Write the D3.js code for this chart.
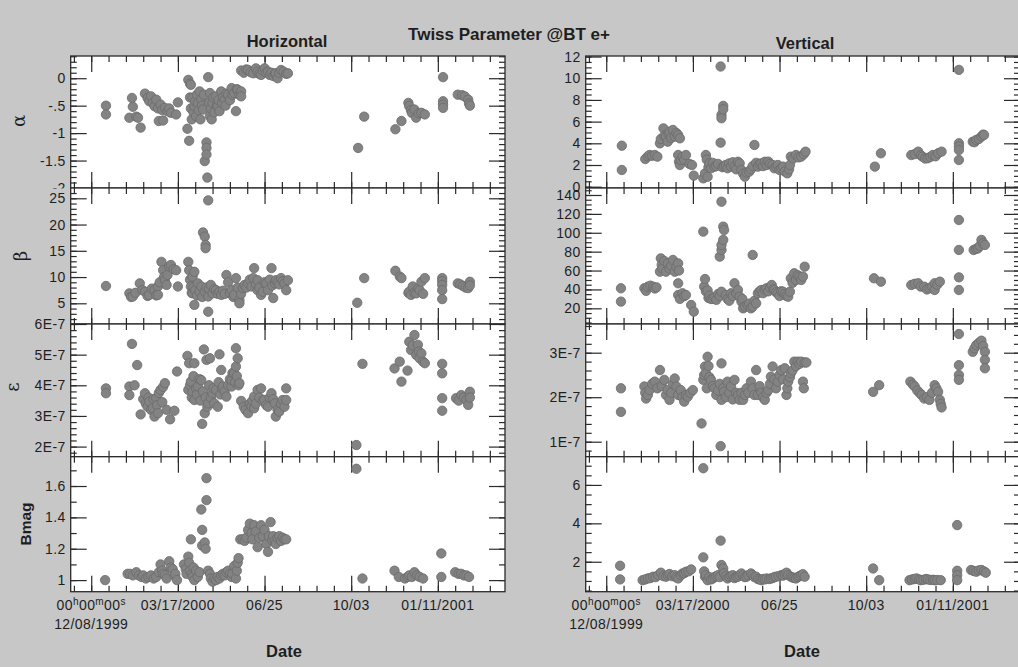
<!DOCTYPE html>
<html><head><meta charset="utf-8">
<script src="https://cdn.jsdelivr.net/npm/d3@7"></script>
<style>
html,body{margin:0;padding:0;background:#c7c7c7;}
svg{display:block;}
text{font-family:"Liberation Sans",Arial,Helvetica,sans-serif;fill:#1e1e1e;}
</style></head><body>
<svg id="chart" width="1018" height="667"></svg>
<script>
// Twiss parameters measured at BT for e+, horizontal and vertical planes.
// Each point is [days since 12/08/1999 00:00, value].

const alphaH = [
[17,-0.50],[17,-0.66],
[44,-0.72],[47,-0.36],[48,-0.52],[52,-0.70],[54,-0.72],[57,-0.90],
[62,-0.28],[65,-0.36],[67,-0.42],[69,-0.33],[71,-0.45],[73,-0.51],[75,-0.39],[77,-0.55],[78,-0.78],[80,-0.48],[82,-0.58],[83,-0.77],[85,-0.54],[88,-0.60],[90,-0.55],[92,-0.63],[98,-0.66],[100,-0.44],
[111,-0.92],[112,-0.03],[113,-1.14],[114,-0.10],[115,-0.12],[114,-0.35],[115,-0.55],[116,-0.75],[117,-0.36],[118,-0.62],[119,-0.51],[120,-0.42],[121,-0.69],[122,-0.30],[123,-0.45],[124,-0.58],[125,-0.24],[126,-0.75],[127,-0.39],[128,-0.50],[129,-0.57],[130,-0.30],
[131,-1.51],[133,-1.17],[133,-1.27],[133,-1.39],[134,-1.81],[135,0.02],
[136,-0.45],[137,-0.27],[137,-0.69],[138,-0.55],[139,-0.75],[140,-0.45],[141,-0.35],[142,-0.62],[144,-0.33],[145,-0.50],[146,-0.51],[147,-0.40],[148,-0.60],[150,-0.24],[151,-0.45],[152,-0.35],[154,-0.39],[155,-0.50],[156,-0.28],[158,-0.30],[160,-0.40],[162,-0.18],[163,-0.30],[165,-0.27],[167,-0.60],[168,-0.20],[169,-0.21],[171,-0.30],[173,-0.24],[173,-0.33],
[173,0.14],[176,0.10],[179,0.16],[181,0.15],[184,0.11],[187,0.09],[190,0.18],[192,0.12],[194,0.08],[196,0.06],[198,0.14],[200,0.18],[202,0.10],[204,0.12],[206,0.06],[208,0.10],[210,0.04],[212,0.08],[213,0.09],[215,0.00],[217,0.10],[219,0.15],[222,0.12],[225,0.08],[227,0.09],
[308,-1.27],[315,-0.70],
[351,-0.93],[358,-0.78],[366,-0.45],[367,-0.51],[369,-0.58],[370,-0.63],[373,-0.57],[375,-0.72],[378,-0.64],[381,-0.63],[385,-0.66],
[406,0.02],[406,-0.42],[406,-0.48],[406,-0.54],
[423,-0.30],[428,-0.31],[431,-0.33],[435,-0.39],[436,-0.46],[437,-0.50]
];

const betaH = [
[17,8.3],
[44,6.9],[46,6.2],[48,6.3],[51,7.0],[56,8.8],[59,7.5],[62,7.2],[65,6.4],[67,6.6],[70,7.8],[73,7.5],[75,6.5],[77,8.2],[77,6.6],[79,9.0],
[81,12.9],[83,11.3],[84,10.0],[85,9.4],[87,8.5],[88,10.4],[90,12.0],[92,12.3],[95,11.5],[98,11.3],[100,8.2],
[112,12.9],[113,11.3],[114,9.5],[115,8.2],[116,7.0],[117,10.1],[117,6.9],[118,8.0],[119,11.0],[119,4.7],[120,7.5],[122,6.5],[123,8.8],[125,7.2],[127,8.2],[128,6.2],
[129,18.5],[131,17.7],[132,16.1],[132,15.5],[135,24.6],[135,3.4],
[131,7.2],[133,8.0],[135,6.3],[136,7.8],[138,8.5],[140,6.9],[142,7.7],[144,7.5],[146,6.8],[148,7.2],[150,6.6],[152,7.4],[154,6.8],[156,10.4],[158,9.0],[160,7.0],[162,7.5],[164,6.2],[165,6.6],[167,9.8],[169,8.0],[171,5.6],[171,5.0],[173,6.8],[175,7.9],[177,8.5],
[179,8.0],[181,8.8],[183,9.5],[185,8.2],[187,9.8],[188,11.7],[190,8.6],[192,7.5],[192,9.4],[194,8.0],[196,6.6],[198,7.2],[200,9.0],[202,8.8],[204,7.5],[206,9.5],[208,11.7],[209,8.4],[210,6.0],[212,8.8],[213,9.4],[215,9.0],[217,8.6],[219,9.8],[221,9.2],[223,8.8],[225,7.5],[227,9.4],
[307,5.1],[315,9.8],
[351,11.2],[356,10.1],[358,9.8],[366,7.0],[367,7.2],[369,6.6],[371,8.2],[373,7.0],[375,6.9],[377,7.8],[379,7.5],[381,9.1],[383,6.8],[385,9.8],
[405,9.8],[405,9.2],[405,8.5],[405,7.5],[405,5.8],
[423,8.8],[426,8.6],[429,8.3],[432,8.0],[435,7.9],[437,9.1],[437,8.4]
];

const emitH = [
[17,3.90e-7],[17,3.74e-7],
[44,3.96e-7],[44,3.68e-7],[47,5.35e-7],[50,4.00e-7],[53,4.66e-7],[57,3.05e-7],
[60,3.55e-7],[62,3.74e-7],[63,3.40e-7],[65,3.30e-7],[66,3.60e-7],[67,3.47e-7],[69,3.20e-7],[71,3.25e-7],[72,3.55e-7],[73,2.98e-7],[75,3.58e-7],[76,3.35e-7],[77,3.09e-7],[78,3.75e-7],[80,3.85e-7],[82,3.45e-7],[83,3.95e-7],[85,4.07e-7],[87,3.20e-7],[91,2.89e-7],[96,3.17e-7],[99,4.45e-7],
[111,4.96e-7],[112,3.85e-7],[113,4.72e-7],[114,4.00e-7],[115,4.12e-7],[116,3.60e-7],[117,3.79e-7],[118,4.30e-7],[119,4.72e-7],[119,3.52e-7],[121,3.90e-7],[122,3.70e-7],[123,3.96e-7],[125,4.20e-7],[126,3.50e-7],[127,4.17e-7],[128,2.74e-7],[129,3.80e-7],[130,5.17e-7],[131,3.09e-7],[132,3.60e-7],[133,4.83e-7],[134,3.30e-7],[135,3.41e-7],[136,4.00e-7],[137,4.88e-7],[138,3.60e-7],[140,3.74e-7],[141,3.90e-7],[142,3.41e-7],[144,3.85e-7],[146,3.30e-7],[147,4.10e-7],[148,5.01e-7],[149,3.70e-7],[150,4.50e-7],[151,3.90e-7],[152,3.96e-7],[154,3.80e-7],[156,3.63e-7],[158,4.00e-7],[160,4.20e-7],[162,3.96e-7],[162,4.17e-7],[163,4.40e-7],[165,4.39e-7],[166,4.10e-7],[167,5.21e-7],[167,4.61e-7],[168,4.30e-7],[169,4.88e-7],[170,4.00e-7],[171,4.07e-7],
[173,3.49e-7],[176,3.30e-7],[178,3.20e-7],[181,3.09e-7],[183,3.40e-7],[185,3.30e-7],[186,3.50e-7],[188,3.63e-7],[188,3.25e-7],[190,3.40e-7],[192,3.85e-7],[194,3.60e-7],[196,3.90e-7],[198,3.50e-7],[200,3.52e-7],[202,3.35e-7],[204,3.30e-7],[206,3.60e-7],[208,3.74e-7],[210,3.55e-7],[212,3.41e-7],[213,2.98e-7],[215,3.20e-7],[217,3.14e-7],[219,3.40e-7],[221,3.52e-7],[223,3.30e-7],[225,3.90e-7],[225,3.52e-7],
[306,2.05e-7],[313,4.70e-7],
[350,4.55e-7],[356,4.77e-7],[358,4.12e-7],[365,4.48e-7],[367,5.42e-7],[369,5.15e-7],[371,5.30e-7],[373,5.64e-7],[375,4.99e-7],[377,5.32e-7],[378,5.10e-7],[379,4.88e-7],[381,5.04e-7],[383,4.77e-7],[385,4.72e-7],
[405,4.70e-7],[405,4.39e-7],[405,3.58e-7],[405,3.17e-7],
[421,3.58e-7],[424,3.50e-7],[427,3.68e-7],[430,3.60e-7],[433,3.52e-7],[435,3.36e-7],[437,3.79e-7],[437,3.60e-7]
];

const bmagH = [
[16,1.00],
[42,1.04],[45,1.04],[48,1.03],[52,1.05],[55,1.03],[58,1.02],[60,1.03],[63,1.01],[66,1.02],[69,1.03],[72,1.01],[75,1.02],[78,1.05],[80,1.10],[82,1.06],[83,1.04],[85,1.03],[87,1.01],[90,1.12],[92,1.08],[94,1.07],[96,1.03],[97,1.04],[99,1.00],
[107,1.10],[109,1.07],[110,1.04],[112,1.15],[113,1.11],[114,1.06],[115,1.26],[116,1.04],[117,1.02],[118,1.08],[119,1.00],[121,1.06],[123,1.02],[125,1.05],
[127,1.45],[128,1.32],[128,1.22],[131,1.24],[132,1.20],[133,1.51],[133,1.65],
[135,1.06],[137,1.04],[138,1.01],[140,0.99],[142,1.01],[144,1.00],[146,1.02],[148,1.01],[150,1.03],[152,1.04],[154,1.03],[156,1.05],[158,1.06],[160,1.04],[162,1.02],[163,1.04],[165,1.09],[167,1.01],[168,1.06],[169,1.11],[170,1.14],
[172,1.26],[175,1.26],[177,1.25],[179,1.27],[181,1.32],[183,1.36],[185,1.30],[186,1.26],[188,1.35],[190,1.31],[192,1.21],[194,1.27],[196,1.35],[198,1.28],[200,1.32],[202,1.23],[204,1.18],[205,1.28],[207,1.37],[209,1.25],[210,1.28],[212,1.25],[213,1.23],[215,1.27],[217,1.28],[219,1.25],[221,1.27],[223,1.26],[225,1.26],
[306,1.71],[313,1.01],
[350,1.06],[355,1.02],[362,1.01],[365,1.02],[367,1.03],[370,1.02],[373,1.05],[376,1.03],[379,1.02],[383,1.01],
[404,1.17],[404,1.02],
[420,1.05],[424,1.04],[427,1.04],[430,1.03],[433,1.03],[436,1.02]
];

const alphaV = [
[18,3.78],[18,1.54],
[45,2.55],[48,2.80],[50,2.92],[53,2.85],[56,2.92],[59,2.77],
[62,4.00],[63,4.40],[66,5.38],[67,4.70],[69,4.62],[71,4.15],[72,4.90],[73,5.08],[75,4.50],[77,5.23],[79,4.62],[81,4.95],[83,4.77],[85,4.46],
[83,2.92],[84,2.30],[85,2.00],[86,2.46],[88,2.75],[90,2.50],[92,2.92],[96,2.10],[99,2.00],[101,1.02],
[112,0.77],[114,1.23],[115,2.92],[116,2.50],[117,0.92],[118,1.80],[119,2.15],[121,1.70],[123,2.20],[125,1.85],[127,1.90],[129,2.10],
[132,11.08],[132,4.06],[133,6.62],[133,6.31],[135,7.45],[135,7.14],
[134,1.80],[136,1.90],[138,2.00],[140,1.70],[142,2.15],[144,1.85],[146,2.25],[148,1.85],[150,1.60],[152,2.30],[154,2.15],[156,1.54],[158,1.20],[160,0.92],[162,1.30],[165,1.38],[167,1.60],[169,1.90],[171,3.85],[173,2.20],[175,1.85],[177,2.10],[179,2.15],[181,1.90],[183,2.30],[185,2.00],[187,2.31],[189,2.10],[192,2.00],[194,1.70],[196,1.85],[198,2.00],[200,1.54],[202,1.70],[204,1.85],[206,1.40],[209,1.23],[211,1.60],[212,2.00],[213,2.77],[216,2.60],[219,2.92],[222,2.70],[225,2.77],[228,3.00],[230,3.23],
[310,1.85],[317,3.08],
[352,2.92],[356,3.00],[360,3.23],[363,2.90],[365,2.77],[368,2.60],[371,2.62],[374,2.75],[377,2.92],[380,2.80],[383,3.08],[387,3.23],
[407,10.77],[407,4.00],[407,3.70],[407,3.38],[407,2.46],
[423,4.15],[425,4.10],[427,4.31],[430,4.40],[433,4.62],[435,4.80],[436,4.77]
];

const betaV = [
[17,41.2],[17,27.1],
[44,41.2],[46,38.5],[48,42.9],[51,44.0],[54,42.9],[56,41.0],[58,42.2],
[62,58.8],[63,72.9],[64,66.0],[65,62.3],[67,70.0],[69,58.8],[71,67.6],[73,62.0],[75,65.0],[77,71.2],[79,58.8],[81,64.1],[83,67.6],[84,60.0],
[83,46.5],[83,34.1],[85,30.0],[88,35.9],[90,33.0],[92,34.1],[98,23.5],[101,16.5],
[112,101.2],[113,43.0],[114,51.0],[115,38.0],[117,38.8],[118,31.0],[119,33.4],[121,29.9],[123,30.0],[125,31.6],[127,29.0],[129,35.1],[131,33.0],
[131,74.7],[133,81.8],[133,87.0],[133,132.9],[135,92.4],[135,106.5],[136,102.9],[133,37.6],
[138,34.1],[140,30.0],[142,28.0],[144,35.9],[146,33.0],[148,46.5],[150,36.0],[152,39.4],[154,32.3],[156,27.1],[157,30.0],[158,20.0],[160,22.0],[163,23.5],[165,25.0],[167,20.0],[169,76.5],[169,21.8],[171,28.0],[173,25.3],[175,35.9],[177,38.0],[179,39.4],[181,36.0],[183,40.0],[185,41.2],[187,38.0],[189,42.0],[191,44.7],[193,40.0],[194,39.4],[196,37.0],[198,35.9],[200,33.0],[202,38.0],[204,37.6],[206,35.0],[208,33.0],[210,32.3],[212,37.6],[213,51.8],[215,47.0],[217,57.1],[219,50.0],[221,55.0],[223,53.6],[225,50.0],[227,53.6],[229,64.1],
[309,51.8],[317,48.2],
[352,44.7],[356,46.0],[360,46.5],[363,43.0],[367,42.9],[370,40.0],[373,41.2],[376,43.0],[379,46.5],[379,39.4],[382,45.0],[385,48.2],
[407,113.5],[407,81.8],[407,52.8],[407,39.4],
[424,81.8],[427,83.0],[429,83.5],[431,86.0],[433,92.4],[435,89.0],[437,87.1]
];

const emitV = [
[17,2.20e-7],[17,1.67e-7],
[44,2.24e-7],[45,2.10e-7],[46,1.97e-7],[48,2.05e-7],[50,2.16e-7],[53,2.30e-7],[56,2.35e-7],[59,2.20e-7],[62,2.61e-7],[64,2.25e-7],[67,2.39e-7],[69,2.05e-7],[71,2.16e-7],[73,1.94e-7],[75,2.10e-7],[77,2.30e-7],[79,2.42e-7],[81,2.24e-7],[83,2.05e-7],[86,2.16e-7],[88,2.00e-7],[90,1.90e-7],[92,2.05e-7],[94,2.01e-7],[97,2.10e-7],[100,2.16e-7],
[110,1.41e-7],[112,2.39e-7],[113,2.50e-7],[114,2.69e-7],[115,2.54e-7],[116,2.20e-7],[117,2.91e-7],[118,2.70e-7],[119,2.45e-7],[121,2.39e-7],[123,2.25e-7],[125,2.20e-7],[127,2.05e-7],[129,2.15e-7],[131,2.30e-7],[132,0.90e-7],[133,2.76e-7],[133,1.94e-7],
[135,2.20e-7],[136,2.12e-7],[138,2.00e-7],[140,2.35e-7],[142,2.10e-7],[144,2.24e-7],[146,1.95e-7],[148,2.39e-7],[150,2.10e-7],[152,2.05e-7],[154,1.94e-7],[156,2.10e-7],[158,1.94e-7],[160,2.05e-7],[162,2.20e-7],[164,2.10e-7],[167,2.35e-7],[169,2.20e-7],[171,2.05e-7],[173,2.61e-7],[175,2.05e-7],[177,2.25e-7],[179,2.10e-7],[181,2.00e-7],[183,1.94e-7],[185,2.10e-7],[187,2.16e-7],[189,2.30e-7],[190,2.46e-7],[192,2.69e-7],[194,2.40e-7],[196,2.20e-7],[198,2.35e-7],[200,2.50e-7],[202,2.61e-7],[204,2.40e-7],[206,2.65e-7],[208,2.05e-7],[209,2.20e-7],[210,2.35e-7],[212,2.45e-7],[213,2.54e-7],[215,2.60e-7],[217,2.80e-7],[219,2.70e-7],[221,2.80e-7],[223,2.75e-7],[225,2.80e-7],[227,2.35e-7],[228,2.20e-7],[229,2.78e-7],[231,2.78e-7],
[308,2.12e-7],[315,2.27e-7],
[351,2.35e-7],[354,2.28e-7],[356,2.24e-7],[359,2.15e-7],[362,2.09e-7],[364,2.05e-7],[367,1.97e-7],[370,2.00e-7],[373,1.94e-7],[376,2.10e-7],[379,2.27e-7],[381,2.20e-7],[383,2.12e-7],[385,1.94e-7],[386,1.85e-7],[387,1.77e-7],
[407,3.42e-7],[407,2.72e-7],[407,2.50e-7],[407,2.39e-7],
[423,3.02e-7],[425,3.10e-7],[427,3.17e-7],[430,3.22e-7],[433,3.27e-7],[435,3.15e-7],[437,3.02e-7],[437,2.84e-7],[437,2.65e-7]
];

const bmagV = [
[16,1.79],[16,1.08],
[42,1.04],[45,1.08],[48,1.13],[51,1.15],[54,1.22],[57,1.20],[60,1.30],[63,1.43],[66,1.25],[69,1.22],[71,1.30],[73,1.36],[76,1.25],[79,1.30],[81,1.18],[83,1.13],[86,1.30],[88,1.39],[90,1.40],[92,1.48],[95,1.50],[98,1.60],
[112,6.87],[112,2.23],[113,1.50],[114,1.22],[115,1.30],[117,1.04],[119,1.20],[121,1.08],[123,1.13],[125,1.20],[127,1.25],[129,1.30],[131,1.20],[132,3.10],[133,1.83],[135,1.65],[136,1.40],
[138,1.25],[140,1.13],[142,1.20],[144,1.25],[146,1.30],[148,1.15],[150,1.20],[152,1.22],[154,1.30],[156,1.39],[158,1.28],[160,1.20],[162,1.22],[164,1.30],[167,1.39],[169,1.30],[171,1.20],[173,1.22],[175,1.10],[177,1.08],[179,1.04],[181,1.10],[183,1.08],[185,1.13],[188,1.10],[190,1.13],[192,1.15],[194,1.20],[196,1.22],[199,1.25],[202,1.30],[204,1.28],[206,1.35],[208,1.43],[210,1.30],[213,1.22],[215,1.18],[217,1.15],[219,1.13],[221,1.20],[223,1.25],[225,1.30],[227,1.35],[229,1.22],
[308,1.65],[315,1.04],
[350,1.04],[353,1.08],[356,1.10],[358,1.13],[361,1.08],[363,1.04],[366,1.06],[369,1.10],[371,1.08],[374,1.05],[377,1.06],[379,1.04],[382,1.05],[386,1.04],
[405,3.91],[405,1.53],[405,1.30],[405,1.04],
[421,1.57],[424,1.52],[427,1.48],[430,1.55],[433,1.57],[436,1.50],[438,1.43]
];

// Axis ranges and tick labels
const xDomainDays = [-23.7, 477.5];
const xMajorDays = [0, 100, 200, 300, 400];
const xMinorStepDays = 20;
const xTickLabels = ["12/08/1999", "03/17/2000", "06/25", "10/03", "01/11/2001"];

const rowTitles = ["α", "β", "ε", "Bmag"];

const yDomainH = [[-2, 0.405], [1.06, 26.96], [1.67e-7, 6.0e-7], [0.926, 1.787]];
const yDomainV = [[-0.12, 12.05], [3.4, 147.4], [0.663e-7, 3.645e-7], [0.44, 7.47]];

const yTicksH = [[0, -0.5, -1, -1.5, -2], [5, 10, 15, 20, 25], [2e-7, 3e-7, 4e-7, 5e-7, 6e-7], [1, 1.2, 1.4, 1.6]];
const yTickLabelsH = [["0", "-.5", "-1", "-1.5", "-2"], ["5", "10", "15", "20", "25"], ["2E-7", "3E-7", "4E-7", "5E-7", "6E-7"], ["1", "1.2", "1.4", "1.6"]];
const yMinorH = [0.1, 1, 0.2e-7, 0.1];

const yTicksV = [[0, 2, 4, 6, 8, 10, 12], [20, 40, 60, 80, 100, 120, 140], [1e-7, 2e-7, 3e-7], [2, 4, 6]];
const yTickLabelsV = [["0", "2", "4", "6", "8", "10", "12"], ["20", "40", "60", "80", "100", "120", "140"], ["1E-7", "2E-7", "3E-7"], ["2", "4", "6"]];
const yMinorV = [0.5, 5, 0.2e-7, 0.5];

const seriesH = [alphaH, betaH, emitH, bmagH];
const seriesV = [alphaV, betaV, emitV, bmagV];

// ---- layout ----
const W = 1018, H = 667;
const columns = [
  { x0: 70.7, x1: 505, series: seriesH, dom: yDomainH, ticks: yTicksH, labels: yTickLabelsH, minor: yMinorH, title: "Horizontal", titleX: 287, titleY: 46.5, dateX: 284, clipLabels: true },
  { x0: 585.7, x1: 1020, series: seriesV, dom: yDomainV, ticks: yTicksV, labels: yTickLabelsV, minor: yMinorV, title: "Vertical", titleX: 805, titleY: 49, dateX: 802, clipLabels: false }
];
const rows = [[56, 188], [188, 324], [324, 456.7], [456.7, 591.7]];

const BASE = Date.UTC(1999, 11, 8);
const toDate = d => new Date(BASE + d * 864e5);

const FRAME = "#2a2a2a";
const MAJ = 16, MIN = 6;

const svg = d3.select("#chart");
svg.append("rect").attr("width", W).attr("height", H).attr("fill", "#c7c7c7");
const defs = svg.append("defs");

function minorValues(lo, hi, step) {
  const a = Math.ceil(lo / step - 1e-9), b = Math.floor(hi / step + 1e-9);
  return d3.range(a, b + 1).map(k => k * step);
}

function styleAxis(sel) {
  sel.select(".domain").remove();
  sel.selectAll(".tick line").attr("stroke", FRAME).attr("stroke-width", 1.2);
  sel.selectAll(".tick text").remove();
}

const xMinorDays = minorValues(xDomainDays[0], xDomainDays[1], xMinorStepDays);

columns.forEach((col, ci) => {
  const x = d3.scaleTime().domain(xDomainDays.map(toDate)).range([col.x0, col.x1]);
  const majorDates = xMajorDays.map(toDate);
  const minorDates = xMinorDays.map(toDate);

  rows.forEach(([y0, y1], ri) => {
    const y = d3.scaleLinear().domain(col.dom[ri]).range([y1, y0]);
    const g = svg.append("g");

    g.append("rect").attr("x", col.x0).attr("y", y0)
      .attr("width", col.x1 - col.x0).attr("height", y1 - y0)
      .attr("fill", "#ffffff");

    // date ticks, pointing inward from top and bottom edges
    [[majorDates, MAJ], [minorDates, MIN]].forEach(([vals, len]) => {
      g.append("g").attr("transform", `translate(0,${y1})`)
        .call(d3.axisBottom(x).tickValues(vals).tickSize(-len)).call(styleAxis);
      g.append("g").attr("transform", `translate(0,${y0})`)
        .call(d3.axisTop(x).tickValues(vals).tickSize(-len)).call(styleAxis);
    });

    // value ticks on both sides
    const yMin = minorValues(col.dom[ri][0], col.dom[ri][1], col.minor[ri]);
    [[col.ticks[ri], MAJ], [yMin, MIN]].forEach(([vals, len]) => {
      g.append("g").attr("transform", `translate(${col.x0},0)`)
        .call(d3.axisLeft(y).tickValues(vals).tickSize(-len)).call(styleAxis);
      g.append("g").attr("transform", `translate(${col.x1},0)`)
        .call(d3.axisRight(y).tickValues(vals).tickSize(-len)).call(styleAxis);
    });

    // tick labels; on the left column the lowest label is cut at the row edge
    const labG = g.append("g");
    if (col.clipLabels) {
      const id = `lab-clip-${ci}-${ri}`;
      defs.append("clipPath").attr("id", id).append("rect")
        .attr("x", 0).attr("y", y0 - 14).attr("width", col.x0).attr("height", y1 - y0 + 14 + 0.5);
      labG.attr("clip-path", `url(#${id})`);
    }
    labG.selectAll("text.ylab").data(col.ticks[ri]).join("text")
      .attr("class", "ylab")
      .attr("x", col.x0 - 5).attr("y", d => y(d)).attr("dy", "0.36em")
      .attr("text-anchor", "end").attr("font-size", 14).attr("letter-spacing", 0.4)
      .text((d, i) => col.labels[ri][i]);

    // measurement points
    g.selectAll("circle").data(col.series[ri]).join("circle")
      .attr("cx", d => x(toDate(d[0]))).attr("cy", d => y(d[1]))
      .attr("r", 4.7).attr("fill", "#838383").attr("stroke", "#6b6b6b").attr("stroke-width", 0.8);

    // frame
    g.append("rect").attr("x", col.x0).attr("y", y0)
      .attr("width", col.x1 - col.x0).attr("height", y1 - y0)
      .attr("fill", "none").attr("stroke", FRAME).attr("stroke-width", 1.3);

    // row titles on the left column only
    if (ci === 0) {
      const isText = rowTitles[ri] === "Bmag";
      svg.append("text")
        .attr("transform", `translate(${[25, 27, 19, 31][ri]},${[121, 256, 387, 524][ri]}) rotate(-90)`)
        .attr("text-anchor", "middle")
        .attr("font-size", isText ? 15.5 : 18)
        .attr("font-weight", isText ? "bold" : "normal")
        .style("font-family", isText ? null : "'DejaVu Serif','Liberation Serif',serif")
        .text(rowTitles[ri]);
    }
  });

  // date labels under the bottom row
  const lab = svg.append("g").attr("font-size", 14).attr("letter-spacing", 0.4);
  xMajorDays.forEach((d, i) => {
    const px = x(toDate(d));
    if (i === 0) {
      const t = lab.append("text").attr("x", px).attr("y", 610).attr("text-anchor", "middle");
      t.append("tspan").text("00");
      t.append("tspan").attr("font-size", 10).attr("dy", -5).text("h");
      t.append("tspan").attr("dy", 5).text("00");
      t.append("tspan").attr("font-size", 10).attr("dy", -5).text("m");
      t.append("tspan").attr("dy", 5).text("00");
      t.append("tspan").attr("font-size", 10).attr("dy", -5).text("s");
      lab.append("text").attr("x", px).attr("y", 629).attr("text-anchor", "middle").text(xTickLabels[i]);
    } else {
      lab.append("text").attr("x", px).attr("y", 610).attr("text-anchor", "middle").text(xTickLabels[i]);
    }
  });

  svg.append("text").attr("x", col.titleX).attr("y", col.titleY)
    .attr("text-anchor", "middle").attr("font-size", 16.5).attr("font-weight", "bold").text(col.title);
  svg.append("text").attr("x", col.dateX).attr("y", 657)
    .attr("text-anchor", "middle").attr("font-size", 16.5).attr("font-weight", "bold").text("Date");
});

svg.append("text").attr("x", 509).attr("y", 39.5)
  .attr("text-anchor", "middle").attr("font-size", 17).attr("font-weight", "bold")
  .text("Twiss Parameter @BT e+");
</script>
</body></html>
